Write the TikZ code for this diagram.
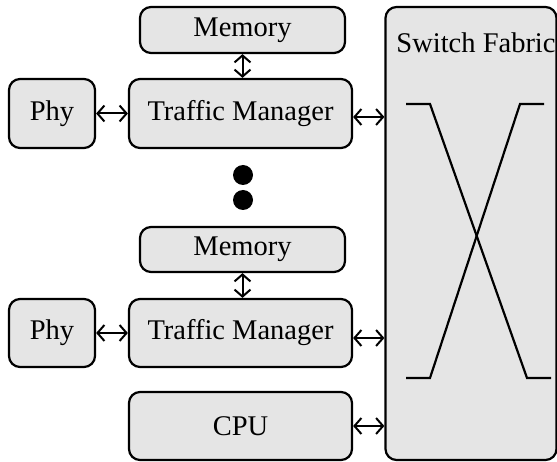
\documentclass[tikz,border=0pt]{standalone}
\usepackage{fontspec}
\setmainfont{Liberation Serif}
\usetikzlibrary{arrows.meta}
\begin{document}
\begin{tikzpicture}[x=1pt,y=-1pt,
  blk/.style={draw=black, line width=2.2pt, fill=black!10, rounded corners=11pt, inner sep=0pt, font=\fontsize{28.5}{31}\selectfont},
  conn/.style={line width=2pt, {Straight Barb[length=7pt,width=16pt,line width=2pt]}-{Straight Barb[length=7pt,width=16pt,line width=2pt]}},
  xline/.style={line width=2.2pt},
  dot/.style={circle, fill=black, minimum size=20pt, inner sep=0pt}]
\useasboundingbox (0,0) rectangle (557,462);
\node[blk, minimum width=171pt, minimum height=453pt] (fab) at (471,233.5) {};
\node[font=\fontsize{28.5}{31}\selectfont, anchor=center] (fabt) at (476,43) {Switch Fabric};
\node[blk, minimum width=205pt, minimum height=46pt] (mem1) at (242.5,30) {Memory};
\node[blk, minimum width=223pt, minimum height=69pt] (tm1) at (240.5,113.5) {Traffic Manager};
\node[blk, minimum width=86pt, minimum height=69pt] (phy1) at (52,113.5) {Phy};
\node[blk, minimum width=205pt, minimum height=45pt] (mem2) at (242.5,249.5) {Memory};
\node[blk, minimum width=223pt, minimum height=68pt] (tm2) at (240.5,333) {Traffic Manager};
\node[blk, minimum width=86pt, minimum height=68pt] (phy2) at (52,333) {Phy};
\node[blk, minimum width=223pt, minimum height=68pt] (cpu) at (240.5,426) {CPU};
\node[dot] (d1) at (243,175) {};
\node[dot] (d2) at (243,200) {};
\draw[conn] (phy1.east) -- (tm1.west);
\draw[conn] (phy2.east) -- (tm2.west);
\draw[conn] ([yshift=-3.5pt]tm1.east) -- ([yshift=-3.5pt]tm1.east -| fab.west);
\draw[conn] ([yshift=-5pt]tm2.east) -- ([yshift=-5pt]tm2.east -| fab.west);
\draw[conn] (cpu.east) -- (cpu.east -| fab.west);
\draw[conn] (mem1.south) -- (mem1.south |- tm1.north);
\draw[conn] (mem2.south) -- (mem2.south |- tm2.north);
\coordinate (a1) at (406,104);
\coordinate (a2) at (430,104);
\coordinate (a3) at (527,378);
\coordinate (a4) at (551,378);
\coordinate (b1) at (544,104);
\coordinate (b2) at (520,104);
\coordinate (b3) at (430,378);
\coordinate (b4) at (406,378);
\draw[xline] (a1) -- (a2) -- (a3) -- (a4);
\draw[xline] (b1) -- (b2) -- (b3) -- (b4);
\end{tikzpicture}
\end{document}
